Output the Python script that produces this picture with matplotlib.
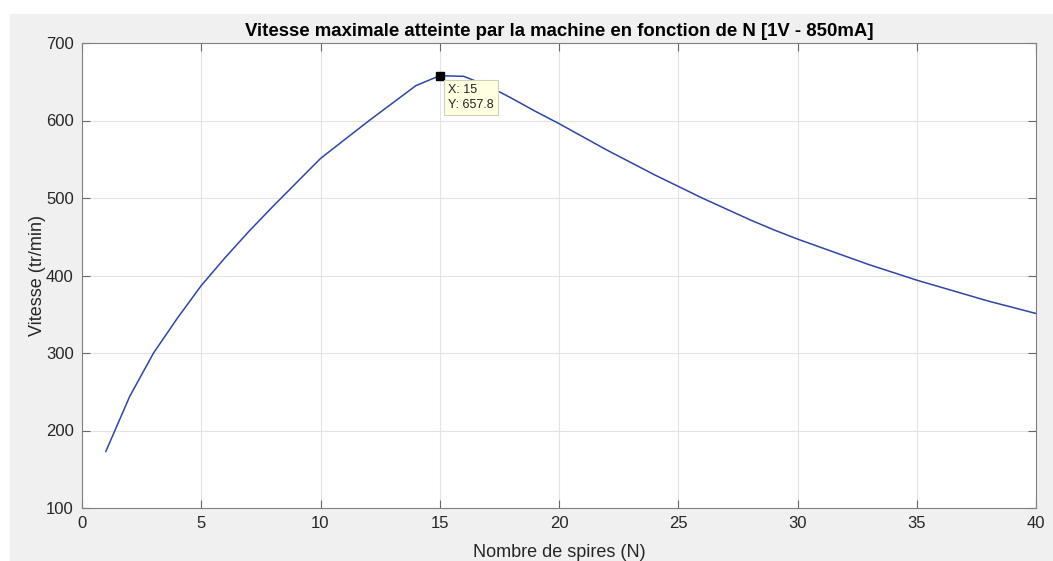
import matplotlib
matplotlib.use("Agg")
import matplotlib.pyplot as plt
from matplotlib.patches import Rectangle

# Vitesse max en fonction du nombre de spires (1V - 850mA)
spires = list(range(1, 41))
vitesse = [173, 244, 300, 345, 387, 423, 457, 489, 520, 551,
           575, 599, 622, 645, 657.8, 657, 645, 629, 612, 596,
           579, 562, 546, 530, 515, 500, 486, 472, 459, 447,
           436, 425, 414, 404, 394, 385, 376, 367, 359, 351]

x_ticks = [0, 5, 10, 15, 20, 25, 30, 35, 40]
y_ticks = [100, 200, 300, 400, 500, 600, 700]

plt.rcParams['font.family'] = ['Liberation Sans', 'DejaVu Sans']

fig = plt.figure(figsize=(10.53, 5.61), dpi=100, facecolor='white')
# fond gris de la fenetre
fig.patches.append(Rectangle((10 / 1053, 0), 1 - 10 / 1053, 1 - 14 / 561,
                             transform=fig.transFigure, facecolor='#f0f0f0',
                             edgecolor='none', zorder=-10))

ax = fig.add_axes([82 / 1053, 1 - 508 / 561, (1036 - 82) / 1053, (508 - 43) / 561])
ax.set_facecolor('white')

ax.plot(spires, vitesse, color='#2f45a6', linewidth=1.1)

# point selectionne (max)
imax = vitesse.index(max(vitesse))
ax.plot(spires[imax], vitesse[imax], marker='s', color='black', markersize=5.5,
        markeredgecolor='black', zorder=5)
ax.annotate('X: %g\nY: %g' % (spires[imax], vitesse[imax]),
            xy=(spires[imax], vitesse[imax]), xytext=(6, -6),
            textcoords='offset points', ha='left', va='top', fontsize=9,
            color='#222222', linespacing=1.3,
            bbox=dict(boxstyle='square,pad=0.35', facecolor='#ffffe1',
                      edgecolor='#d0d0b8', linewidth=0.8), zorder=6)

ax.set_xlim(0, 40)
ax.set_ylim(100, 700)
ax.set_xticks(x_ticks)
ax.set_yticks(y_ticks)
ax.grid(True, color='#e3e3e3', linewidth=0.8)
ax.set_axisbelow(True)

ax.tick_params(direction='in', length=6, width=0.8, color='#666666',
               labelsize=12, labelcolor='#262626', top=True, right=True, pad=6)
for s in ax.spines.values():
    s.set_color('#808080')
    s.set_linewidth(0.8)

ax.set_xlabel('Nombre de spires (N)', fontsize=13, color='#262626', labelpad=9)
ax.set_ylabel('Vitesse (tr/min)', fontsize=13, color='#262626', labelpad=0)
ax.set_title('Vitesse maximale atteinte par la machine en fonction de N [1V - 850mA]',
             fontsize=13.4, fontweight='bold', color='black', pad=5)

fig.savefig('out.png', dpi=100, facecolor=fig.get_facecolor())
